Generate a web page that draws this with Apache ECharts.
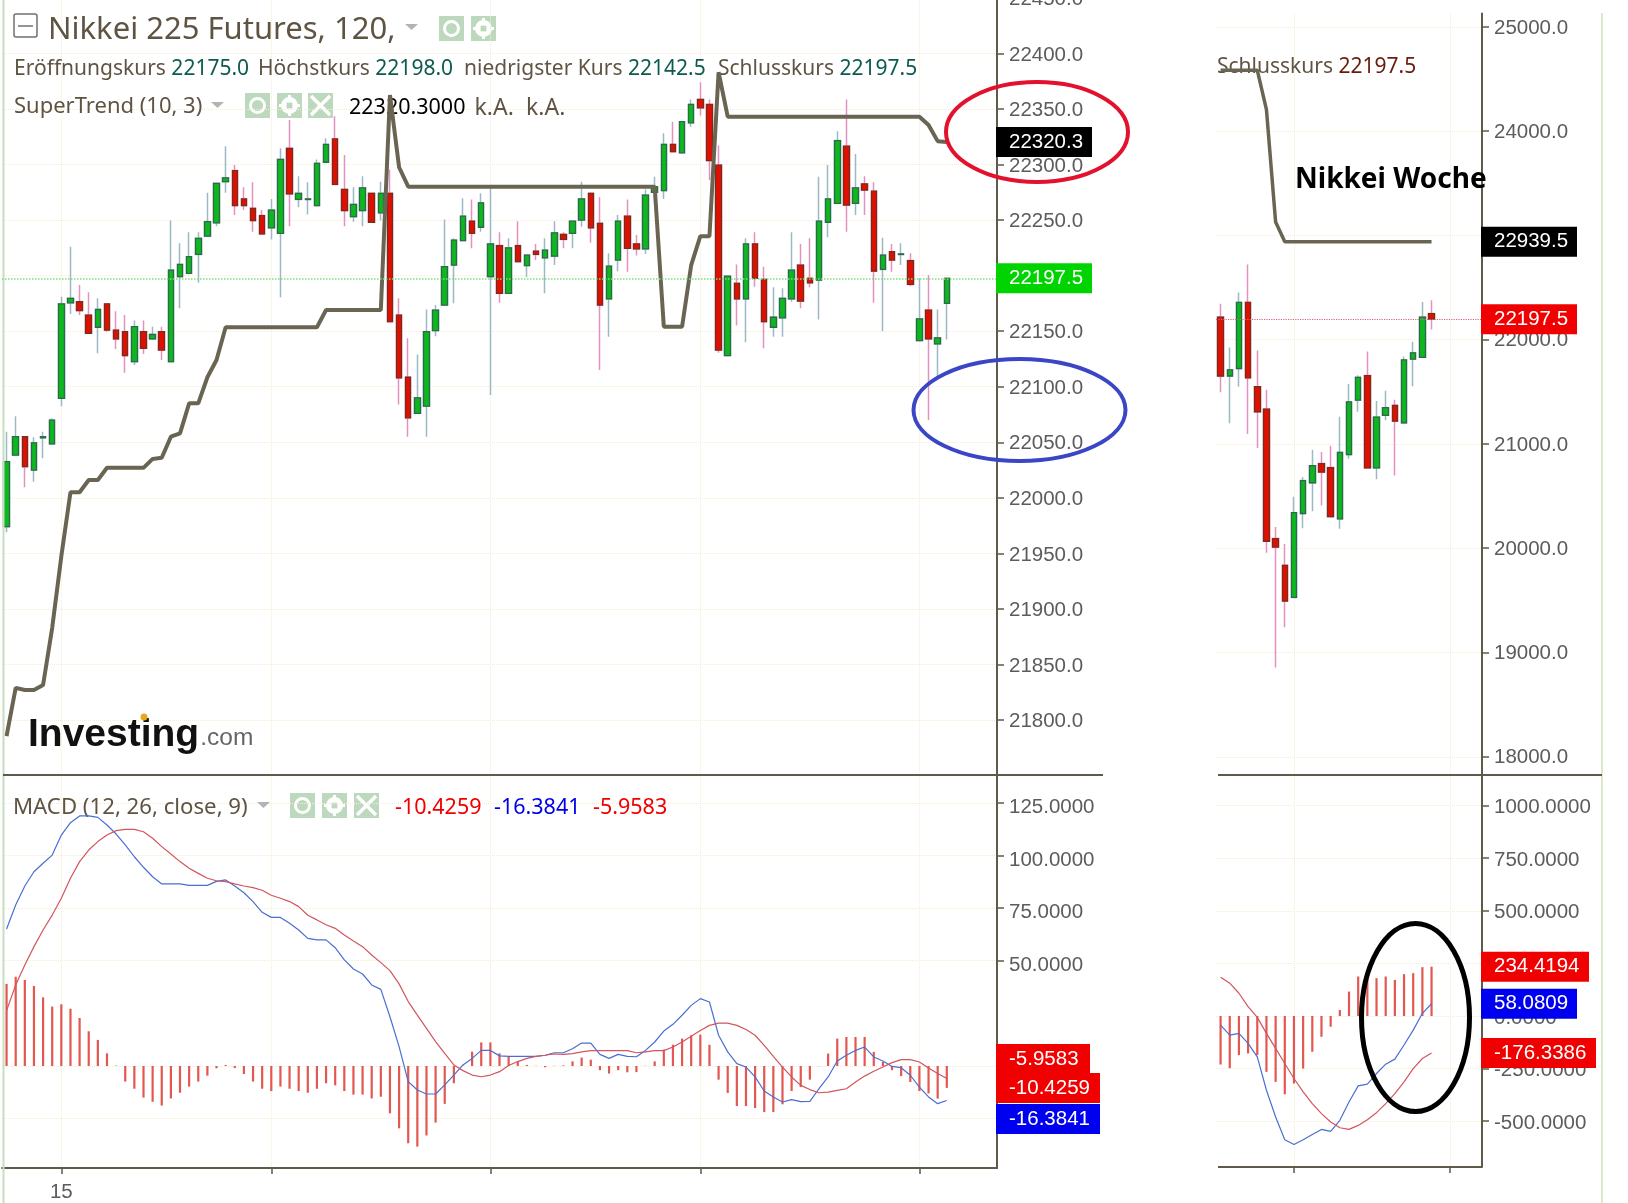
<!DOCTYPE html>
<html>
<head>
<meta charset="utf-8">
<title>Nikkei 225 Futures</title>
<script src="https://cdn.jsdelivr.net/npm/echarts@6/dist/echarts.min.js"></script>
<style>
    html, body { margin: 0; padding: 0; background: #fff; }
    #main-chart { width: 1628px; height: 1203px; }
</style>
</head>
<body>
<div id="main-chart"></div>
<script>
// 120 min chart
var mainOpen = [21974,22038.5,22055,22025,22054,22048.5,22089.5,22175.5,22176.5,22164.5,22153.5,22174.5,22151,22149.5,22122.5,22149.5,22143,22149.5,22122.5,22199,22202,22219,22235.5,22247.5,22284.5,22294.5,22269,22260.5,22254,22243,22238,22314.5,22268.5,22268.5,22263,22302,22323,22277.5,22253,22258.5,22274,22256.5,22274,22164.5,22108.5,22076,22082.5,22150.5,22173.5,22209.5,22231.5,22249,22243.5,22199,22227,22184,22227,22209,22222,22216,22217.5,22237,22238,22250,22274,22247,22179,22214,22253.5,22228.5,22224,22275,22276.5,22318,22310.5,22337.5,22358.5,22354,22299.5,22128,22193,22179,22228.5,22196.5,22153.5,22162,22179,22209.5,22197.5,22196,22248,22265,22316.5,22265,22282.5,22276,22205.5,22221.5,22219,22213.5,22141.5,22169,22138.5,22175];
var mainClose = [22032.5,22055,22028,22049.5,22055,22070,22174.5,22179.5,22168.5,22148,22169.5,22151,22143,22128,22154,22134.5,22147,22133,22205,22210,22217,22233.5,22248.5,22283,22288,22263,22263,22249.5,22237.5,22259,22304.5,22273.5,22274,22269,22301,22318,22282,22258.5,22264,22279,22248,22274,22158.5,22108,22072,22090,22149.5,22169,22208,22232,22253.5,22238,22265.5,22228.5,22184,22225,22212.5,22218.5,22219,22223,22238.5,22232.5,22249,22269,22243,22173.5,22208.5,22249,22224.5,22224,22272.5,22280,22318,22311.5,22338.5,22354,22351,22303.5,22133,22199.5,22179,22228.5,22197.5,22158.5,22162.5,22179.5,22205,22177,22193.5,22249,22269,22321.5,22263.5,22279,22277,22204,22218.5,22214,22219.5,22192,22161,22143,22144,22197.5];
var mainLow = [21969,22038.5,22009.5,22014.5,22035.5,22048.5,22082.5,22165.5,22164.5,22148,22130,22149.5,22134,22112.5,22119.5,22129.5,22142,22124,22122.5,22170.5,22202,22193.5,22235.5,22244.5,22274.5,22254.5,22259,22239.5,22236.5,22232.5,22180.5,22244.5,22261.5,22255,22263,22302,22282,22244.5,22248.5,22244.5,22248,22249.5,22158.5,22084,22055,22076,22055,22145.5,22173.5,22175,22231.5,22224.5,22239.5,22092.5,22175.5,22184,22212.5,22198.5,22214,22184,22209.5,22224.5,22224.5,22244,22229.5,22115,22145,22204,22203.5,22218,22219.5,22266.5,22269,22311.5,22310.5,22334,22344,22286,22130.5,22128,22155,22140,22190,22134.5,22145,22145,22176.5,22170.5,22189.5,22160.5,22234.5,22265,22239.5,22254.5,22254.5,22175.5,22150,22203.5,22209.5,22190.5,22141.5,22070,22109,22142.5];
var mainHigh = [22059.5,22073.5,22055,22054.5,22059.5,22071.5,22181,22226,22191.5,22185,22179.5,22174.5,22168,22164.5,22159.5,22159.5,22154,22154,22249.5,22229,22239,22239,22274.5,22283,22316.5,22299.5,22279.5,22284,22259,22269,22314.5,22340,22289.5,22284,22304.5,22323.5,22343.5,22308.5,22279.5,22289.5,22274,22284.5,22295.5,22179.5,22143.5,22129,22169.5,22173.5,22250.5,22233.5,22269.5,22268.5,22274,22280,22239,22233.5,22249,22218.5,22228.5,22233.5,22249,22239,22249,22284.5,22274,22270.5,22220,22254.5,22268.5,22236.5,22277.5,22289,22328,22338.5,22338.5,22358.5,22374,22358.5,22317,22199.5,22210,22233.5,22239,22208,22189.5,22188.5,22239,22228.5,22233.5,22289,22299.5,22330,22358.5,22309.5,22289.5,22284,22234,22228.5,22229,22220,22197.5,22200.5,22169.5,22198];
var mainSuperTrend = [21785.5,21829,21827,21827,21831.5,21883,21947.5,22005,22005,22016,22016,22027,22027,22027,22027,22027,22035,22036,22055,22058,22085,22085,22108.5,22124,22153.5,22153.5,22153.5,22153.5,22153.5,22153.5,22153.5,22153.5,22153.5,22153.5,22153.5,22169,22169,22169,22169,22169,22169,22169,22362.5,22297.5,22280,22280,22280,22280,22280,22280,22280,22280,22280,22280,22280,22280,22280,22280,22280,22280,22280,22280,22280,22280,22280,22280,22280,22280,22280,22280,22280,22280,22154,22154,22154,22209.5,22235.5,22235.5,22383,22343,22343,22343,22343,22343,22343,22343,22343,22343,22343,22343,22343,22343,22343,22343,22343,22343,22343,22343,22343,22343,22343,22335.5,22321,22320.3];
var mainHist = [39,42.4,40.9,38,32.6,28.2,29.3,27.2,22.8,16.5,12.4,6,0.2,-7.4,-10.8,-15,-17,-18.8,-15.4,-12.7,-9.8,-7.4,-4.6,-1.1,0.5,-1,-3.8,-7.4,-10.8,-11.9,-9.8,-10.8,-11.9,-12.7,-10.8,-8.2,-9.2,-11.9,-13.6,-13.6,-15.4,-14.6,-22.5,-29.6,-36.7,-38.3,-33,-26.9,-18,-8.2,0.2,6.8,11.2,11.2,6,4.4,2,0.5,0.1,-0.6,0.1,0.3,2.2,4,3,-2,-3.6,-2,-3,-2.9,0.1,2.2,7.8,10.1,13,14.6,14.9,10.1,-6.5,-12.8,-19,-19,-20,-21.9,-21.9,-18.2,-11.9,-10,-6.5,-0.1,5.9,13,13.8,13.8,13.8,6.7,1.9,-2,-4.8,-7.6,-11.9,-13,-15.5,-10.4];
var mainMacd = [65.1,76.5,85.5,92.3,96.3,100.2,109.7,115.6,118.8,118.8,118.1,114.5,110.2,105,99.4,94.4,89.9,86.5,86.5,86.5,85.8,85.8,85.8,87.7,88.4,85.5,82.3,78.1,73,70.6,70.6,67.8,64.6,60.6,59.9,59.9,56.2,50.4,46.1,43.7,38.5,36.4,23.4,9.2,-7.4,-11.4,-13.3,-13.3,-9,-4.3,0.5,3.6,7.4,7.4,4.8,4.6,4.6,4.6,4.6,5.1,6.3,6.3,8.2,10.9,10.9,5.5,3.6,5.5,4.6,4.4,7.4,11.4,16.6,19.8,24.1,28.8,32,30.4,14.6,6.7,1.1,-0.5,-5.2,-11.9,-14.7,-17.1,-16,-16.9,-16.8,-10.8,-5.2,2.4,5.1,7.4,9,4.3,2.4,-0.2,-0.8,-4.4,-10,-14.7,-17.9,-16.4];
var mainSignal = [26.3,38.5,48,56.7,64.6,71.7,79.7,89.2,97.1,102.6,106.6,109.7,111.8,112.4,112.4,111.3,108.2,104.2,100.7,97.1,93.9,91.5,89.2,88,87.6,86.5,85.5,84.7,83.5,81.1,79.7,78.1,75.7,71.6,69.4,67.1,65.4,62.2,59.4,56.7,52.7,49.1,45.3,39,30.6,24.2,17.9,11.6,6,0.5,-2.2,-4.3,-5.1,-4.3,-2.7,0.2,2.1,3.6,4.6,5.1,5.7,5.5,5.9,6.7,7.3,7.3,7.3,7.3,7.3,6.3,6.7,7.3,7.3,9,11.4,14.1,16.9,19.3,20.4,20.4,19.3,17.3,14.6,9.8,4.6,-0.5,-5.2,-9.2,-11.2,-12.7,-12.4,-11.6,-10.8,-7.6,-4.8,-2.5,-0.5,1.6,3,3,1.9,-1,-3.6,-5.96];

// weekly chart
var weekOpen = [22217,21652,21724,22358,21549,21335,20093,19836,19528,20333,20628,20812,20774,20281,20898,21420,21656,20770,21275,21369,21202,21814,21831,22251];
var weekClose = [21652,21711,22358,21635,21309,20067,20011,19493,20341,20649,20791,20731,20303,20919,21403,21639,20770,21258,21348,21219,21806,21874,22217,22197.5];
var weekLow = [21497,21198,21549,21095,20962,19956,18855,19241,19528,20191,20354,20410,20303,20187,20859,21309,20770,20662,21228,20697,21202,21553,21831,22097];
var weekHigh = [22345,21926,22452,22722,21896,21519,20204,20041,20495,20684,20945,20924,20984,21262,21575,21660,21887,21412,21510,21425,21840,21981,22362,22379.5];
var weekSuperTrend = [24585,24585,24585,24585,24585,24208,23129,22939.5,22939.5,22939.5,22939.5,22939.5,22939.5,22939.5,22939.5,22939.5,22939.5,22939.5,22939.5,22939.5,22939.5,22939.5,22939.5,22939.5];
var weekHist = [-230.6,-248,-186,-178,-186,-265.5,-313,-372,-321,-250,-170,-98.6,-51,28.6,116,187.6,171.7,179.7,187.6,171.7,198.8,203.5,232,234.4];
var weekMacd = [-43,-90.6,-82.7,-130,-194,-353,-480,-588,-610.6,-588,-563,-539,-548.6,-496,-408.6,-332,-324,-273.5,-229,-205,-138,-67,12.7,58.08];
var weekSignal = [184,156,108,44.5,-6.4,-82.7,-154,-226,-297,-361,-416.6,-464,-504,-531,-539,-520,-493,-459.5,-416.6,-369,-313,-250,-202,-176.3];

// axis ticks
var mainBands = 109;
var weekBands = 29;
var mainTickIdx = [6, 29, 53, 76, 100];
var weekTickIdx = [8, 25];
var weekPriceTicks = [25000, 24000, 23000, 22000, 21000, 20000, 19000, 18000];
var mainMacdTicks = [125, 100, 75, 50, 0, -25];
var weekMacdTicks = [1000, 750, 500, 250, 0, -250, -500];

var GREY = '#5c5c5c';
var AXIS = '#5f5a4a';
var GRID = '#f6ecd2';
var TXT = '#5f5443';
var FONT = '"Noto Sans", sans-serif';
var NUM = '"Liberation Sans", Arial, sans-serif';

function cats(n, labels) {
    var r = [];
    for (var i = 0; i < n; i++) {
        r.push(labels[i] || '');
    }
    return r;
}

function ohlc(o, c, l, h) {
    return o.map(function (v, i) { return [v, c[i], l[i], h[i]]; });
}

// bodies have no wick of their own, the wicks are a paler series behind them
function bodies(o, c) {
    return o.map(function (v, i) { return [v, c[i], Math.min(v, c[i]), Math.max(v, c[i])]; });
}

function flag(v, text, bg, width, dy, line) {
    return {
        yAxis: v,
        lineStyle: line || { color: 'rgba(0,0,0,0)', width: 0 },
        label: {
            show: true, position: 'end', distance: -1, formatter: text, offset: [0, dy || 0],
            backgroundColor: bg, color: '#fff', fontFamily: NUM, fontSize: 20.5,
            width: width - 21, height: 24, lineHeight: 24, padding: [6, 8, 0, 13], align: 'left'
        }
    };
}

function flagLine(flags) {
    return { silent: true, symbol: 'none', animation: false, precision: 4, z: 10, data: flags };
}

function xAxisOf(grid, n, labels, ticks, showTicks, showLine) {
    return {
        type: 'category', gridIndex: grid, data: cats(n, labels),
        axisLine: { show: showLine, onZero: false, lineStyle: { color: AXIS, width: 2 } },
        axisTick: { show: showTicks, length: 6, alignWithLabel: true, lineStyle: { color: AXIS, width: 1.5 },
            interval: function (i) { return ticks.indexOf(i) >= 0; } },
        axisLabel: { show: showTicks, interval: function (i) { return !!labels[i]; }, color: GREY, fontFamily: NUM, fontSize: 20.5, margin: 14 },
        splitLine: { show: true, alignWithLabel: true, lineStyle: { color: GRID, type: 'dotted' },
            interval: function (i) { return ticks.indexOf(i) >= 0; } }
    };
}

// labels sit a little below their ticks in the picture, top aligned with a small lineHeight does that
function yAxisOf(grid, min, max, digits, drop, extra) {
    var a = {
        type: 'value', gridIndex: grid, position: 'right', min: min, max: max, scale: true,
        axisLine: { show: true, lineStyle: { color: AXIS, width: 2 } },
        axisTick: { show: true, length: 7, lineStyle: { color: AXIS, width: 1.5 } },
        axisLabel: { color: GREY, fontFamily: NUM, fontSize: 20.5, margin: 12, verticalAlign: 'top', lineHeight: drop * 2,
            formatter: function (v) { return v.toFixed(digits); } },
        splitLine: { show: true, lineStyle: { color: GRID, type: 'dotted' } }
    };
    if (extra.interval) {
        a.interval = extra.interval;
        a.axisLabel.showMinLabel = false;
    }
    if (extra.ticks) {
        a.axisTick.customValues = extra.ticks;
        a.axisLabel.customValues = extra.labels || extra.ticks;
    }
    return a;
}

function candleSeries(idx, o, c, l, h, width) {
    return [{
        type: 'candlestick', xAxisIndex: idx, yAxisIndex: idx, barWidth: width, data: ohlc(o, c, l, h),
        itemStyle: { color: 'transparent', color0: 'transparent', borderColor: '#9db9c4', borderColor0: '#e391bf', borderWidth: 1.5 }
    }, {
        type: 'candlestick', xAxisIndex: idx, yAxisIndex: idx, barWidth: width, data: bodies(o, c),
        itemStyle: { color: '#0cb81e', color0: '#e01000', borderColor: '#2c6a48', borderColor0: '#7a2c1c', borderWidth: 1.3 }
    }];
}

function lineSeries(idx, data, color, width, flags) {
    var s = {
        type: 'line', xAxisIndex: idx, yAxisIndex: idx, data: data, symbol: 'none', z: 3,
        lineStyle: { color: color, width: width }
    };
    if (flags) {
        s.markLine = flagLine(flags);
    }
    return s;
}

function barSeries(idx, data) {
    return {
        type: 'bar', xAxisIndex: idx, yAxisIndex: idx, data: data, barWidth: 2.2,
        itemStyle: { color: '#e2574f' }
    };
}

// header bits: text, icons and the hand drawn circles
function text(x, y, str, size, color, extra) {
    var style = { x: x, y: y, text: str, fill: color, fontSize: size, fontFamily: FONT, verticalAlign: 'middle', align: 'left' };
    for (var k in (extra || {})) {
        style[k] = extra[k];
    }
    return { type: 'text', silent: true, z: 1, style: style };
}

function priced(x, y, name, value, numColor) {
    return text(x, y, '{a|' + name + '} {b|' + value + '}', 21, TXT, {
        rich: { a: { fill: TXT, fontSize: 21, fontFamily: FONT }, b: { fill: numColor, fontSize: 21, fontFamily: FONT } }
    });
}

function icon(x, y, kind) {
    var kids = [{ type: 'rect', shape: { x: 0, y: 0, width: 25, height: 25 }, style: { fill: '#bcd9be' } }];
    if (kind === 'eye') {
        kids.push({ type: 'circle', shape: { cx: 12.5, cy: 12.5, r: 7 }, style: { fill: 'none', stroke: '#fff', lineWidth: 3 } });
    } else if (kind === 'gear') {
        kids.push({ type: 'circle', shape: { cx: 12.5, cy: 12.5, r: 6 }, style: { fill: 'none', stroke: '#fff', lineWidth: 5 } });
        kids.push({ type: 'rect', shape: { x: 11, y: 2, width: 3, height: 21 }, style: { fill: '#fff' } });
        kids.push({ type: 'rect', shape: { x: 2, y: 11, width: 21, height: 3 }, style: { fill: '#fff' } });
        kids.push({ type: 'circle', shape: { cx: 12.5, cy: 12.5, r: 3 }, style: { fill: '#bcd9be' } });
    } else {
        kids.push({ type: 'line', shape: { x1: 3, y1: 3, x2: 22, y2: 22 }, style: { stroke: '#fff', lineWidth: 3.5 } });
        kids.push({ type: 'line', shape: { x1: 22, y1: 3, x2: 3, y2: 22 }, style: { stroke: '#fff', lineWidth: 3.5 } });
    }
    return { type: 'group', x: x, y: y, silent: true, z: 1, children: kids };
}

function tri(x, y, w, h) {
    return { type: 'polygon', silent: true, z: 1, shape: { points: [[x, y], [x + w, y], [x + w / 2, y + h]] }, style: { fill: '#b4b4b4' } };
}

function rule(x1, y1, x2, y2, color, width) {
    return { type: 'line', silent: true, z: 5, shape: { x1: x1, y1: y1, x2: x2, y2: y2 }, style: { stroke: color, lineWidth: width } };
}

function ring(cx, cy, rx, ry, color, width) {
    return { type: 'ellipse', silent: true, z: 100, shape: { cx: cx, cy: cy, rx: rx, ry: ry }, style: { fill: 'none', stroke: color, lineWidth: width } };
}

var graphics = [
    rule(3.5, 0, 3.5, 1203, '#c8dfbe', 2),
    rule(1602, 13, 1602, 1203, '#dbe8cc', 2),
    rule(3, 775, 1103, 775, AXIS, 2),
    rule(1218, 775, 1602, 775, AXIS, 2),
    rule(1218, 1167, 1482, 1167, AXIS, 2),

    { type: 'rect', silent: true, z: 1, shape: { x: 14, y: 14, width: 23, height: 23, r: 2 }, style: { fill: 'none', stroke: '#707070', lineWidth: 1.5 } },
    rule(18, 26, 33, 26, '#707070', 1.5),
    text(48, 30, 'Nikkei 225 Futures, 120,', 31, TXT),
    tri(405, 24, 13, 6),
    icon(439, 16, 'eye'),
    icon(471, 16, 'gear'),

    priced(14, 69, 'Eröffnungskurs', '22175.0', '#0c5a50'),
    priced(258, 69, 'Höchstkurs', '22198.0', '#0c5a50'),
    priced(464, 69, 'niedrigster Kurs', '22142.5', '#0c5a50'),
    priced(718, 69, 'Schlusskurs', '22197.5', '#0c5a50'),
    priced(1217, 67, 'Schlusskurs', '22197.5', '#6a1c0c'),

    text(14, 107, 'SuperTrend (10, 3)', 22, TXT),
    tri(211, 102, 13, 6),
    icon(245, 93, 'eye'),
    icon(277, 93, 'gear'),
    icon(308, 93, 'x'),
    text(349, 108, '22320.3000', 21.5, '#000'),
    text(474.5, 108, 'k.A.', 23, TXT),
    text(526, 108, 'k.A.', 23, TXT),

    text(13, 808, 'MACD (12, 26, close, 9)', 22.2, TXT),
    tri(257, 802, 13, 6),
    icon(290, 793, 'eye'),
    icon(322, 793, 'gear'),
    icon(354, 793, 'x'),
    text(395, 808, '-10.4259', 21.5, '#f00000'),
    text(494, 808, '-16.3841', 21.5, '#0000e8'),
    text(593, 808, '-5.9583', 21.5, '#f00000'),

    text(1295, 180, 'Nikkei Woche', 28, '#000', { fontWeight: 'bold' }),

    text(28, 735, '{a|Investing}{b|.com}', 39, '#111', {
        rich: {
            a: { fill: '#111', fontSize: 39, fontWeight: 'bold', fontFamily: NUM },
            b: { fill: '#666', fontSize: 24.5, fontFamily: NUM, padding: [6, 0, 0, 1] }
        }
    }),
    { type: 'circle', silent: true, z: 2, shape: { cx: 144, cy: 717, r: 3.5 }, style: { fill: '#e8a818' } },

    ring(1037, 132, 91, 50, '#e2122e', 4),
    ring(1019.5, 410, 106, 51, '#3b46c6', 4),
    ring(1415.5, 1017.5, 54, 94, '#000', 5)
];

var myChart = echarts.init(document.getElementById('main-chart'), null, { renderer: 'canvas' });

var option = {
    animation: false,
    backgroundColor: '#fff',
    grid: [
        { left: 2, top: -2.2, width: 995, height: 777.8, outerBoundsMode: 'none' },
        { left: 2, top: 775, width: 995, height: 393, outerBoundsMode: 'none' },
        { left: 1216, top: 13.4, width: 266, height: 761.6, outerBoundsMode: 'none' },
        { left: 1216, top: 775, width: 266, height: 392, outerBoundsMode: 'none' }
    ],
    xAxis: [
        xAxisOf(0, mainBands, {}, mainTickIdx, false, false),
        xAxisOf(1, mainBands, { 6: '15' }, mainTickIdx, true, true),
        xAxisOf(2, weekBands, {}, weekTickIdx, false, false),
        xAxisOf(3, weekBands, {}, weekTickIdx, true, false)
    ],
    yAxis: [
        yAxisOf(0, 21750, 22450, 1, 1.5, { interval: 50 }),
        yAxisOf(1, -48.46, 138.24, 4, 4.5, { ticks: mainMacdTicks, labels: [125, 100, 75, 50] }),
        yAxisOf(2, 17825, 25130, 1, 1, { ticks: weekPriceTicks }),
        yAxisOf(3, -717.7, 1145.4, 4, 2, { ticks: weekMacdTicks })
    ],
    series: [].concat(
        candleSeries(0, mainOpen, mainClose, mainLow, mainHigh, 6),
        [lineSeries(0, mainSuperTrend, '#6a6553', 4, [
            flag(22197.5, '22197.5', '#00d400', 96, 0, { color: '#7ae07a', type: 'dotted', width: 1.5 }),
            flag(22320.3, '22320.3', '#000', 96, 0)
        ])],
        [barSeries(1, mainHist),
         lineSeries(1, mainMacd, '#4a6fd2', 1.2),
         lineSeries(1, mainSignal, '#d2555f', 1.2, [
            flag(-5.9583, '-5.9583', '#f00000', 94, -19.5),
            flag(-10.4259, '-10.4259', '#f00000', 104, 0),
            flag(-16.3841, '-16.3841', '#0000f0', 104, 18.5)
         ])],
        candleSeries(2, weekOpen, weekClose, weekLow, weekHigh, 6),
        [lineSeries(2, weekSuperTrend, '#6a6553', 3.5, [
            flag(22197.5, '22197.5', '#f00000', 96, 0, { color: '#e0607a', type: 'dotted', width: 1.2 }),
            flag(22939.5, '22939.5', '#000', 96, 0)
        ])],
        [barSeries(3, weekHist),
         lineSeries(3, weekMacd, '#4a6fd2', 1.2),
         lineSeries(3, weekSignal, '#d2555f', 1.2, [
            flag(234.4194, '234.4194', '#f00000', 108, 0),
            flag(58.0809, '58.0809', '#0000f0', 96, 0),
            flag(-176.3386, '-176.3386', '#f00000', 115, 0)
         ])]
    ),
    graphic: { elements: graphics }
};
myChart.setOption(option);
</script>
</body>
</html>
